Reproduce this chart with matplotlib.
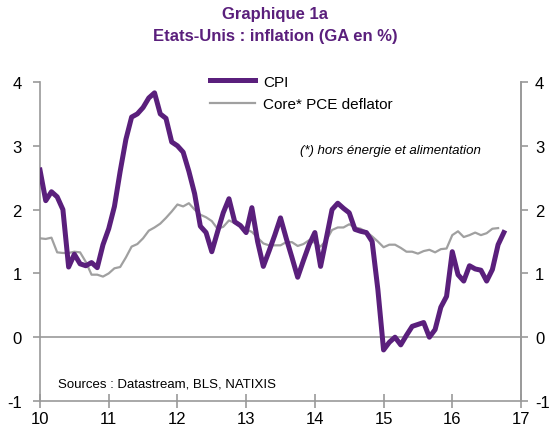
import numpy as np
import matplotlib
matplotlib.use("Agg")
import matplotlib.pyplot as plt

plt.rcParams['font.family'] = ['Liberation Sans', 'DejaVu Sans']

# Monthly data, Jan 2010 onwards (x = year - 2000 + month/12)
cpi = [2.62, 2.14, 2.28, 2.20, 2.00, 1.10, 1.30, 1.15, 1.12, 1.17, 1.09, 1.45,
       1.70, 2.05, 2.60, 3.10, 3.45, 3.50, 3.60, 3.75, 3.83, 3.50, 3.43, 3.06,
       3.00, 2.90, 2.60, 2.25, 1.74, 1.64, 1.34, 1.65, 1.95, 2.17, 1.81, 1.75,
       1.64, 2.03, 1.50, 1.11, 1.35, 1.60, 1.87, 1.55, 1.25, 0.94, 1.20, 1.45,
       1.64, 1.11, 1.55, 2.00, 2.10, 2.02, 1.95, 1.69, 1.66, 1.64, 1.50, 0.75,
       -0.20, -0.08, 0.00, -0.12, 0.03, 0.17, 0.20, 0.23, 0.00, 0.12, 0.47, 0.64,
       1.34, 0.98, 0.88, 1.12, 1.07, 1.05, 0.88, 1.06, 1.45, 1.64]
core_pce = [1.55, 1.54, 1.56, 1.33, 1.32, 1.32, 1.34, 1.33, 1.18, 0.98, 0.98, 0.95,
            1.00, 1.08, 1.10, 1.25, 1.42, 1.46, 1.55, 1.67, 1.72, 1.78, 1.87, 1.97,
            2.08, 2.05, 2.10, 2.00, 1.92, 1.88, 1.82, 1.70, 1.73, 1.83, 1.79, 1.74,
            1.69, 1.65, 1.56, 1.47, 1.44, 1.44, 1.44, 1.49, 1.49, 1.43, 1.46, 1.52,
            1.48, 1.42, 1.52, 1.68, 1.72, 1.72, 1.77, 1.72, 1.70, 1.65, 1.58, 1.50,
            1.41, 1.45, 1.45, 1.40, 1.34, 1.34, 1.31, 1.35, 1.37, 1.33, 1.38, 1.39,
            1.60, 1.66, 1.57, 1.60, 1.64, 1.60, 1.63, 1.70, 1.71]
start_year = 10
x_ticks = [10, 11, 12, 13, 14, 15, 16, 17]
y_ticks = [-1, 0, 1, 2, 3, 4]
title_1 = "Graphique 1a"
title_2 = "Etats-Unis : inflation (GA en %)"
note = "(*) hors énergie et alimentation"
source = "Sources : Datastream, BLS, NATIXIS"

purple = '#5a1f7c'
grey = '#a0a0a0'
axis_grey = '#999999'

x_cpi = start_year + np.arange(len(cpi)) / 12.0
x_pce = start_year + np.arange(len(core_pce)) / 12.0

fig = plt.figure(figsize=(5.5, 4.27), dpi=100)
ax = fig.add_axes([40/550, 1 - 402/427, (521-40)/550, (402-83)/427])

ax.axhline(0, color=axis_grey, lw=1.2, zorder=1)
ax.plot(x_cpi, cpi, color=purple, lw=3.6, label='CPI', zorder=3,
        solid_joinstyle='round')
ax.plot(x_pce, core_pce, color=grey, lw=1.6, label='Core* PCE deflator', zorder=2)

ax.set_xlim(10, 17)
ax.set_ylim(-1, 4)
ax.set_xticks(x_ticks)
ax.set_xticklabels([str(t) for t in x_ticks])
ax.set_yticks(y_ticks)
ax.set_yticklabels([str(t) for t in y_ticks])

for s in ['left', 'right', 'bottom']:
    ax.spines[s].set_color(axis_grey)
    ax.spines[s].set_linewidth(1.2)
ax.spines['top'].set_visible(False)

ax.tick_params(axis='y', which='both', direction='out', length=5, width=1.2,
               color=axis_grey, labelsize=12, pad=8,
               left=True, right=False, labelleft=True, labelright=False)
ax.tick_params(axis='x', direction='inout', length=10, width=1.2,
               color=axis_grey, labelsize=12, pad=2)

ax2 = ax.twinx()
ax2.set_ylim(-1, 4)
ax2.set_yticks(y_ticks)
ax2.set_yticklabels([str(t) for t in y_ticks])
for s in ['left', 'top', 'bottom']:
    ax2.spines[s].set_visible(False)
ax2.spines['right'].set_color(axis_grey)
ax2.spines['right'].set_linewidth(1.2)
ax2.tick_params(axis='y', direction='out', length=5, width=1.2,
                color=axis_grey, labelsize=12, pad=5)

leg = ax.legend(loc='upper left', bbox_to_anchor=(202/550, 1 - 68/427),
                bbox_transform=fig.transFigure, frameon=False, fontsize=11,
                handlelength=3.0, handletextpad=0.5, borderpad=0,
                labelspacing=0.55)

fig.text(0.5, 1 - 15/427, title_1, ha='center', va='center', fontsize=12,
         fontweight='bold', color=purple)
fig.text(0.5, 1 - 37/427, title_2, ha='center', va='center', fontsize=12,
         fontweight='bold', color=purple)
fig.text(300/550, 1 - 151/427, note, ha='left', va='center', fontsize=9.5,
         style='italic', color='black')
fig.text(58/550, 1 - 385/427, source, ha='left', va='center', fontsize=9.5,
         color='black')

fig.savefig('out.png', dpi=100)
